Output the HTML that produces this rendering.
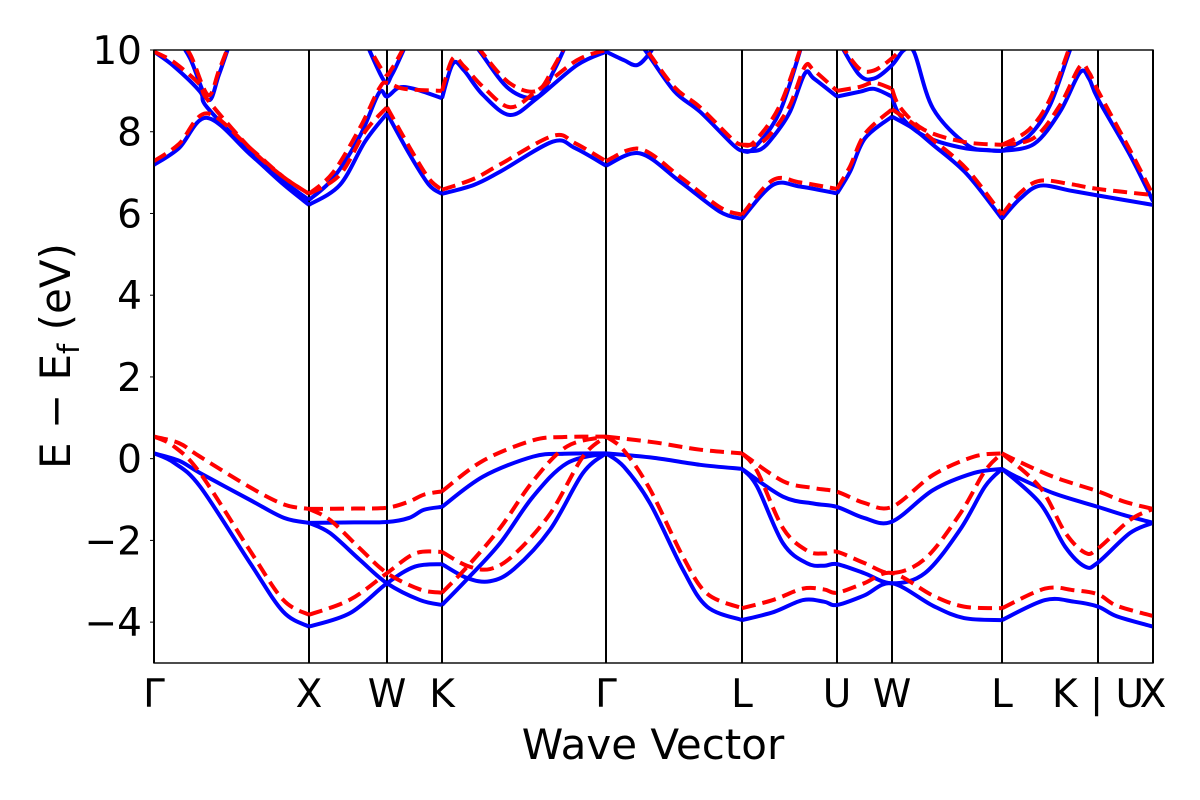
<!DOCTYPE html>
<html><head><meta charset="utf-8"><style>
html,body{margin:0;padding:0;background:#fff;}
svg{display:block;font-family:"DejaVu Sans","Liberation Sans",sans-serif;}
</style></head><body>
<svg id="chart" width="1200" height="800" viewBox="0 0 1200 800">
<defs><clipPath id="plotclip"><rect x="154" y="50" width="999" height="613"/></clipPath></defs>
<rect x="0" y="0" width="1200" height="800" fill="#fff"/>
<g id="vlines"></g>
<g id="bands" clip-path="url(#plotclip)"></g>
<rect x="154" y="50" width="999" height="613" fill="none" stroke="#000" stroke-width="1.4"/>
<g id="yticks"></g>
<g id="xticks"></g>
<text x="653" y="759" font-size="42" text-anchor="middle">Wave Vector</text>
<text transform="translate(70,356) rotate(-90)" font-size="42" text-anchor="middle">E − E<tspan font-size="29" dy="9">f</tspan><tspan dy="-9"> (eV)</tspan></text>
</svg>
<script>
const kLabels = ["Γ","X","W","K","Γ","L","U","W","L","K | U","X"];
const kPositions = [0,1.55,2.33,2.88,4.52,5.88,6.83,7.38,8.48,9.44,9.99];
const yTickValues = [-4,-2,0,2,4,6,8,10];
const yTickLabels = ["−4","−2","0","2","4","6","8","10"];
const blueBands = [
[[0,0.13],[0.25,-0.05],[0.46,-0.35],[0.96,-1.01],[1.3,-1.45],[1.55,-1.57]],
[[1.55,-1.57],[2.0,-1.56],[2.33,-1.55],[2.55,-1.45],[2.7,-1.25],[2.88,-1.18]],
[[2.88,-1.18],[3.29,-0.44],[3.79,0.05],[4.1,0.12],[4.52,0.13]],
[[4.52,0.13],[5.0,0.02],[5.46,-0.15],[5.88,-0.25]],
[[5.88,-0.25],[6.29,-0.93],[6.6,-1.1],[6.83,-1.18],[7.1,-1.45],[7.38,-1.54],[7.79,-0.77],[8.2,-0.35],[8.48,-0.25]],
[[8.48,-0.25],[8.63,-0.45],[9.0,-0.85],[9.44,-1.18],[9.7,-1.38],[9.99,-1.57]],
[[0,0.13],[0.2,-0.1],[0.46,-0.68],[0.96,-2.55],[1.29,-3.74],[1.55,-4.11]],
[[1.55,-4.11],[1.96,-3.78],[2.33,-3.05],[2.61,-2.64],[2.88,-2.58]],
[[1.55,-1.57],[1.76,-1.82],[2.06,-2.48],[2.33,-3.05],[2.66,-3.46],[2.88,-3.58]],
[[2.88,-2.58],[3.13,-2.92],[3.36,-3.0],[3.6,-2.7],[3.96,-1.74],[4.29,-0.35],[4.52,0.13]],
[[2.88,-3.58],[3.13,-2.95],[3.46,-2.07],[3.79,-0.93],[4.13,-0.11],[4.52,0.13]],
[[4.52,0.13],[4.7,-0.2],[4.96,-1.09],[5.29,-2.72],[5.53,-3.62],[5.88,-3.95]],
[[5.88,-3.95],[6.2,-3.75],[6.49,-3.46],[6.7,-3.5],[6.83,-3.58],[7.1,-3.35],[7.38,-3.05],[7.79,-3.6],[8.1,-3.9],[8.48,-3.95]],
[[5.88,-0.25],[6.03,-0.68],[6.29,-2.07],[6.53,-2.56],[6.7,-2.62],[6.83,-2.58],[7.1,-2.8],[7.38,-3.05],[7.71,-2.8],[8.06,-1.74],[8.31,-0.68],[8.48,-0.25]],
[[8.48,-3.95],[8.91,-3.46],[9.2,-3.5],[9.44,-3.62],[9.63,-3.86],[9.99,-4.11]],
[[8.48,-0.25],[8.86,-1.09],[9.11,-2.15],[9.31,-2.64],[9.44,-2.54],[9.76,-1.82],[9.99,-1.57]],
[[0,7.19],[0.25,7.6],[0.53,8.34],[0.96,7.45],[1.29,6.72],[1.55,6.21]],
[[0,9.96],[0.2,9.6],[0.46,8.98],[0.53,8.6],[0.96,7.5],[1.29,6.8],[1.55,6.33]],
[[1.55,6.21],[1.86,6.7],[2.11,7.76],[2.33,8.45]],
[[2.33,8.45],[2.56,7.43],[2.75,6.7],[2.88,6.48]],
[[2.88,6.48],[3.2,6.7],[3.46,7.02],[3.99,7.76],[4.21,7.6],[4.52,7.17]],
[[1.55,6.33],[1.79,6.86],[2.06,7.9],[2.25,8.95],[2.33,8.86],[2.45,9.08],[2.6,9.05],[2.88,8.82]],
[[2.88,8.82],[2.99,9.67],[3.1,9.5],[3.29,8.9],[3.56,8.41],[3.83,8.82],[4.23,9.63],[4.52,9.96]],
[[0.2,10.4],[0.36,9.8],[0.54,8.78],[0.65,9.4],[0.79,10.4]],
[[2.1,10.3],[2.3,9.25],[2.38,9.4],[2.55,10.3]],
[[3.1,10.5],[3.26,9.96],[3.55,9.05],[3.83,8.85],[4.0,9.5],[4.15,10.3]],
[[4.52,9.96],[4.7,9.75],[4.83,9.63],[4.95,9.9],[5.05,10.3]],
[[4.8,10.3],[4.91,10.0],[5.2,9.0],[5.46,8.49],[5.79,7.68],[5.88,7.53]],
[[5.88,7.53],[6.06,7.56],[6.2,7.9],[6.36,8.49],[6.51,9.43],[6.6,9.3],[6.83,8.86]],
[[5.88,7.53],[6.0,7.6],[6.26,8.5],[6.5,10.3]],
[[6.83,8.86],[7.06,8.98],[7.2,9.05],[7.38,8.86]],
[[7.38,8.86],[7.46,8.4],[7.7,7.9],[8.1,7.6],[8.48,7.53]],
[[6.85,10.2],[7.05,9.4],[7.2,9.3],[7.38,9.63],[7.5,10.0],[7.6,9.95],[7.79,8.57],[8.13,7.68],[8.35,7.55],[8.48,7.53]],
[[8.48,7.53],[8.75,7.9],[8.96,8.65],[9.16,10.0],[9.25,10.5]],
[[8.48,7.53],[8.8,7.7],[9.06,8.49],[9.26,9.45],[9.35,9.3],[9.44,8.8],[9.76,7.43],[9.99,6.3]],
[[4.52,7.17],[4.86,7.47],[5.26,6.78],[5.66,6.04],[5.88,5.87]],
[[5.88,5.87],[6.19,6.7],[6.46,6.66],[6.83,6.49]],
[[6.83,6.49],[6.96,7.02],[7.11,7.84],[7.38,8.37]],
[[7.38,8.37],[7.59,8.08],[7.79,7.68],[8.13,6.96],[8.48,5.87]],
[[8.48,5.87],[8.66,6.36],[8.86,6.68],[9.16,6.56],[9.44,6.44],[9.99,6.21]]
];
const redBands = [
[[0,0.54],[0.25,0.38],[0.46,0.05],[0.96,-0.7],[1.3,-1.12],[1.55,-1.23]],
[[1.55,-1.23],[2.0,-1.22],[2.33,-1.2],[2.55,-1.05],[2.7,-0.88],[2.88,-0.8]],
[[2.88,-0.8],[3.29,-0.05],[3.79,0.45],[4.1,0.53],[4.52,0.54]],
[[4.52,0.54],[5.0,0.4],[5.46,0.22],[5.88,0.13]],
[[5.88,0.13],[6.29,-0.55],[6.6,-0.72],[6.83,-0.81],[7.1,-1.08],[7.38,-1.18],[7.79,-0.4],[8.2,0.05],[8.48,0.13]],
[[8.48,0.13],[8.63,-0.05],[9.0,-0.45],[9.44,-0.8],[9.7,-1.05],[9.99,-1.23]],
[[0,0.54],[0.2,0.3],[0.46,-0.35],[0.96,-2.25],[1.29,-3.45],[1.55,-3.82]],
[[1.55,-3.82],[1.96,-3.45],[2.33,-2.8],[2.61,-2.32],[2.88,-2.28]],
[[1.55,-1.23],[1.76,-1.5],[2.06,-2.2],[2.33,-2.8],[2.66,-3.2],[2.88,-3.28]],
[[2.88,-2.28],[3.13,-2.62],[3.36,-2.7],[3.6,-2.35],[3.96,-1.35],[4.29,0.05],[4.52,0.54]],
[[2.88,-3.28],[3.13,-2.65],[3.46,-1.7],[3.79,-0.55],[4.13,0.3],[4.52,0.54]],
[[4.52,0.54],[4.7,0.2],[4.96,-0.75],[5.29,-2.4],[5.53,-3.3],[5.88,-3.66]],
[[5.88,-3.66],[6.2,-3.45],[6.49,-3.18],[6.7,-3.2],[6.83,-3.28],[7.1,-3.05],[7.38,-2.8],[7.79,-3.35],[8.1,-3.62],[8.48,-3.66]],
[[5.88,0.13],[6.03,-0.3],[6.29,-1.7],[6.53,-2.25],[6.7,-2.32],[6.83,-2.28],[7.1,-2.55],[7.38,-2.8],[7.71,-2.45],[8.06,-1.35],[8.31,-0.3],[8.48,0.13]],
[[8.48,-3.66],[8.91,-3.18],[9.2,-3.22],[9.44,-3.32],[9.63,-3.6],[9.99,-3.85]],
[[8.48,0.13],[8.86,-0.7],[9.11,-1.8],[9.31,-2.3],[9.44,-2.2],[9.76,-1.5],[9.99,-1.23]],
[[0,7.28],[0.25,7.7],[0.53,8.45],[0.96,7.6],[1.29,6.9],[1.55,6.48]],
[[1.55,6.48],[1.86,6.95],[2.11,8.0],[2.33,8.6]],
[[2.33,8.6],[2.56,7.6],[2.75,6.85],[2.88,6.58]],
[[2.88,6.58],[3.2,6.85],[3.46,7.2],[3.99,7.9],[4.21,7.72],[4.52,7.28]],
[[4.52,7.28],[4.86,7.58],[5.26,6.9],[5.66,6.15],[5.88,5.97]],
[[5.88,5.97],[6.19,6.82],[6.46,6.76],[6.83,6.6]],
[[6.83,6.6],[6.96,7.15],[7.11,7.95],[7.38,8.55]],
[[7.38,8.55],[7.59,8.2],[7.79,7.8],[8.13,7.08],[8.48,5.97]],
[[8.48,5.97],[8.66,6.5],[8.86,6.8],[9.16,6.72],[9.44,6.6],[9.99,6.45]],
[[0,9.96],[0.2,9.7],[0.46,9.15],[0.53,8.8],[0.96,7.6],[1.29,6.9],[1.55,6.48]],
[[1.55,6.48],[1.79,7.0],[2.06,8.1],[2.25,9.05],[2.33,9.2],[2.5,9.05],[2.88,9.0]],
[[2.88,9.0],[2.99,9.8],[3.1,9.6],[3.29,9.1],[3.56,8.6],[3.83,9.0],[4.23,9.75],[4.52,10.0]],
[[3.1,10.5],[3.26,10.0],[3.55,9.2],[3.83,9.0],[4.0,9.6],[4.15,10.3]],
[[0.2,10.4],[0.36,9.9],[0.54,8.9],[0.65,9.5],[0.79,10.4]],
[[4.8,10.3],[4.91,10.05],[5.2,9.1],[5.46,8.6],[5.79,7.8],[5.88,7.68]],
[[5.88,7.68],[6.06,7.72],[6.2,8.05],[6.36,8.65],[6.51,9.6],[6.6,9.5],[6.83,9.0]],
[[5.88,7.68],[6.0,7.75],[6.26,8.65],[6.5,10.3]],
[[6.83,9.0],[7.06,9.1],[7.2,9.2],[7.38,9.05]],
[[7.38,9.05],[7.46,8.6],[7.7,8.05],[8.1,7.75],[8.48,7.68]],
[[6.85,10.2],[7.05,9.55],[7.2,9.5],[7.38,9.8],[7.5,10.1]],
[[8.48,7.68],[8.75,8.05],[8.96,8.8],[9.16,10.1]],
[[8.48,7.68],[8.8,7.85],[9.06,8.65],[9.26,9.6],[9.35,9.45],[9.44,9.0],[9.76,7.55],[9.99,6.45]],
[[2.1,10.3],[2.3,9.45],[2.38,9.55],[2.55,10.3]]
];
const NS = "http://www.w3.org/2000/svg";
const X0 = 154, X1 = 1153, Y0 = 50, Y1 = 663;
const kMin = 0, kMax = 9.99, eMin = -5, eMax = 10;
function xs(k){ return X0 + (k - kMin) / (kMax - kMin) * (X1 - X0); }
function ys(e){ return Y1 - (e - eMin) / (eMax - eMin) * (Y1 - Y0); }
function pathFor(pts){
  const p = pts.map(d => [xs(d[0]), ys(d[1])]);
  let s = "M" + p[0][0].toFixed(2) + "," + p[0][1].toFixed(2);
  for (let i = 0; i < p.length - 1; i++){
    const a = p[i-1] || p[i], b = p[i], c = p[i+1], d = p[i+2] || c;
    const c1x = b[0] + (c[0]-a[0])/6, c1y = b[1] + (c[1]-a[1])/6;
    const c2x = c[0] - (d[0]-b[0])/6, c2y = c[1] - (d[1]-b[1])/6;
    s += " C" + c1x.toFixed(2)+","+c1y.toFixed(2)+" "+c2x.toFixed(2)+","+c2y.toFixed(2)+" "+c[0].toFixed(2)+","+c[1].toFixed(2);
  }
  return s;
}
const vg = document.getElementById("vlines");
const xg = document.getElementById("xticks");
kPositions.forEach((k, i) => {
  const l = document.createElementNS(NS, "line");
  l.setAttribute("x1", xs(k)); l.setAttribute("x2", xs(k));
  l.setAttribute("y1", Y0); l.setAttribute("y2", Y1);
  l.setAttribute("stroke", "#000"); l.setAttribute("stroke-width", "2");
  
  
  vg.appendChild(l);
  const t = document.createElementNS(NS, "text");
  t.setAttribute("x", xs(k)); t.setAttribute("y", 707);
  t.setAttribute("font-size", "39"); t.setAttribute("text-anchor", "middle");
  t.textContent = kLabels[i];
  
  
  xg.appendChild(t);
});
const yg = document.getElementById("yticks");
yTickValues.forEach((v, i) => {
  const l = document.createElementNS(NS, "line");
  l.setAttribute("x1", X0 - 4); l.setAttribute("x2", X0);
  l.setAttribute("y1", ys(v)); l.setAttribute("y2", ys(v));
  l.setAttribute("stroke", "#000"); l.setAttribute("stroke-width", "1");
  
  
  yg.appendChild(l);
  const t = document.createElementNS(NS, "text");
  t.setAttribute("x", 142); t.setAttribute("y", ys(v) + 14);
  t.setAttribute("font-size", "39"); t.setAttribute("text-anchor", "end");
  t.textContent = yTickLabels[i];
  
  
  yg.appendChild(t);
});
const bg = document.getElementById("bands");
blueBands.forEach(b => {
  const p = document.createElementNS(NS, "path");
  p.setAttribute("d", pathFor(b));
  p.setAttribute("fill", "none"); p.setAttribute("stroke", "#0000ff");
  p.setAttribute("stroke-width", "4"); p.setAttribute("stroke-linejoin", "round");
  
  
  bg.appendChild(p);
});
redBands.forEach(b => {
  const p = document.createElementNS(NS, "path");
  p.setAttribute("d", pathFor(b));
  p.setAttribute("fill", "none"); p.setAttribute("stroke", "#ff0000");
  p.setAttribute("stroke-width", "4"); p.setAttribute("stroke-dasharray", "14,7");
  
  
  bg.appendChild(p);
});
</script>
</body></html>
